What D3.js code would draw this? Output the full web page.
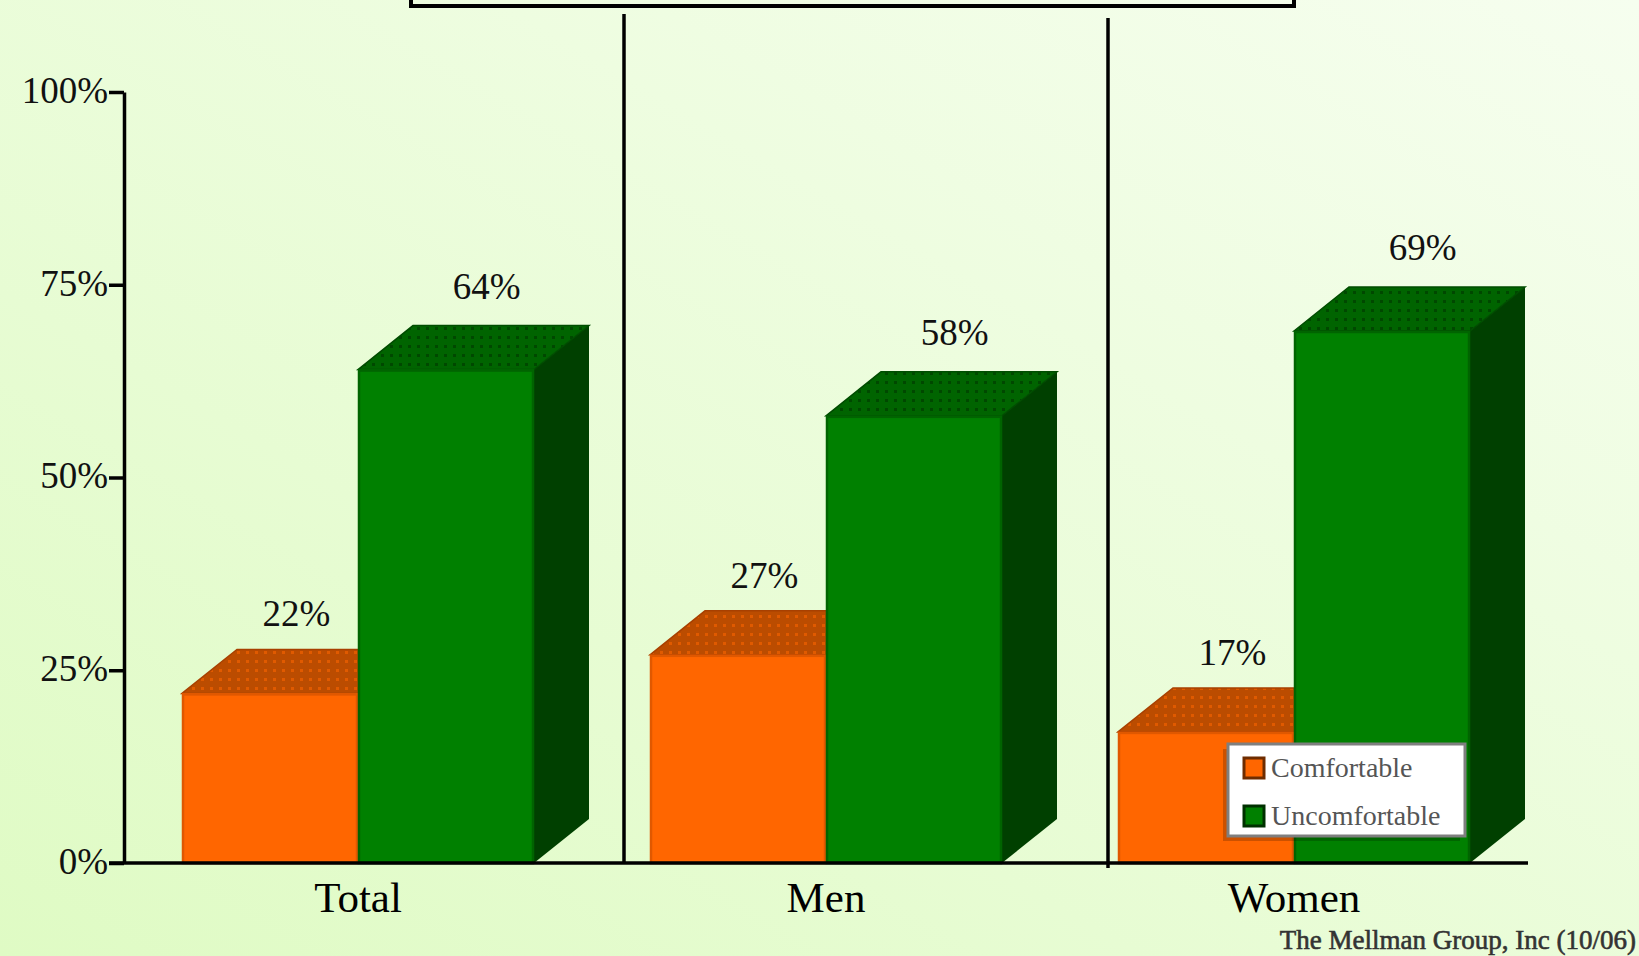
<!DOCTYPE html>
<html lang="en">
  <head>
    <meta charset="UTF-8" />
    <title>Comfortable / Uncomfortable</title>
    <script src="https://cdnjs.cloudflare.com/ajax/libs/d3/7.8.5/d3.min.js"></script>
    <style>
      body,
      html {
        margin: 0;
        padding: 0;
        width: 100%;
        height: 100%;
        overflow: hidden;
      }
      svg {
        display: block;
      }
      text {
        font-family: "Liberation Serif", "Times New Roman", serif;
      }
    </style>
  </head>
  <body>
    <svg id="chart"></svg>
    <script type="text/javascript">
      const categories = ["Total", "Men", "Women"];
      const seriesNames = ["Comfortable", "Uncomfortable"];
      const comfortable = [0.22, 0.27, 0.17];
      const uncomfortable = [0.64, 0.58, 0.69];
      const yTicks = [0, 0.25, 0.5, 0.75, 1];
      const source = "The Mellman Group, Inc (10/06)";

      const width = 1639;
      const height = 956;
      const depth = { dx: 55, dy: 44 };
      const barWidth = 176;

      const svg = d3
        .select("#chart")
        .attr("width", width)
        .attr("height", height);

      // background gradient + dot patterns for the bar tops
      const defs = svg.append("defs");
      const bg = defs
        .append("linearGradient")
        .attr("id", "bg")
        .attr("x1", "0")
        .attr("y1", "1")
        .attr("x2", "1")
        .attr("y2", "0");
      bg.append("stop").attr("offset", "0").attr("stop-color", "#dffbc4");
      bg.append("stop").attr("offset", "1").attr("stop-color", "#f6feef");

      function dots(id, base, dot) {
        const p = defs
          .append("pattern")
          .attr("id", id)
          .attr("patternUnits", "userSpaceOnUse")
          .attr("width", 9)
          .attr("height", 9);
        p.append("rect").attr("width", 9).attr("height", 9).attr("fill", base);
        p.append("rect")
          .attr("x", 3)
          .attr("y", 3)
          .attr("width", 3)
          .attr("height", 3)
          .attr("fill", dot);
      }
      dots("dotsOrange", "#bb4c00", "#e05a00");
      dots("dotsGreen", "#006400", "#004800");

      svg
        .append("rect")
        .attr("width", width)
        .attr("height", height)
        .attr("fill", "url(#bg)");

      const colors = [
        { front: "#ff6600", edge: "#e05800", side: "#a84400", top: "url(#dotsOrange)" },
        { front: "#008000", edge: "#006400", side: "#004000", top: "url(#dotsGreen)" },
      ];

      const x = d3
        .scaleBand()
        .domain(categories)
        .range([124, 1528])
        .padding(0);
      const y = d3.scaleLinear().domain([0, 1]).range([863, 92]);

      // title box (mostly off the top edge)
      svg
        .append("rect")
        .attr("x", 411)
        .attr("y", -60)
        .attr("width", 883)
        .attr("height", 66)
        .attr("fill", "none")
        .attr("stroke", "#000")
        .attr("stroke-width", 4);

      // group dividers, a little right of the band edges
      const dividers = [
        { x: x("Men") + 32, top: 14, bottom: 863 },
        { x: x("Women") + 48, top: 18, bottom: 868 },
      ];
      svg
        .append("g")
        .selectAll("line")
        .data(dividers)
        .join("line")
        .attr("x1", (d) => d.x)
        .attr("x2", (d) => d.x)
        .attr("y1", (d) => d.top)
        .attr("y2", (d) => d.bottom)
        .attr("stroke", "#000")
        .attr("stroke-width", 3.5);

      // bars
      const data = categories.map((c, i) => ({
        cat: c,
        values: [comfortable[i], uncomfortable[i]],
      }));

      const groups = svg
        .append("g")
        .selectAll("g")
        .data(data)
        .join("g");

      groups.each(function (d) {
        const g = d3.select(this);
        const center = x(d.cat) + x.bandwidth() / 2;
        d.values.forEach((v, i) => {
          const x0 = center - barWidth + i * barWidth;
          const x1 = x0 + barWidth;
          const yt = y(v);
          const yb = y(0);
          const c = colors[i];
          const dx = depth.dx;
          const dy = depth.dy;

          // side face
          g.append("path")
            .attr(
              "d",
              `M${x1},${yt}L${x1 + dx},${yt - dy}L${x1 + dx},${yb - dy}L${x1},${yb}Z`
            )
            .attr("fill", c.side);
          // top face
          g.append("path")
            .attr(
              "d",
              `M${x0},${yt}L${x0 + dx},${yt - dy}L${x1 + dx},${yt - dy}L${x1},${yt}Z`
            )
            .attr("fill", c.top)
            .attr("stroke", i === 0 ? "#a84000" : "#004c00")
            .attr("stroke-width", 1.5);
          // front face
          g.append("rect")
            .attr("x", x0)
            .attr("y", yt)
            .attr("width", barWidth)
            .attr("height", yb - yt)
            .attr("fill", c.front);
          g.append("rect")
            .attr("x", x0 + 1)
            .attr("y", yt + 1)
            .attr("width", barWidth - 2)
            .attr("height", yb - yt - 1)
            .attr("fill", "none")
            .attr("stroke", c.edge)
            .attr("stroke-width", 2.5);
        });
      });

      // value labels
      groups.each(function (d) {
        const g = d3.select(this);
        const center = x(d.cat) + x.bandwidth() / 2;
        d.values.forEach((v, i) => {
          const fc = center - barWidth / 2 + i * barWidth;
          g.append("text")
            .attr("x", fc + depth.dx * (i === 0 ? 0.48 : 0.74))
            .attr("y", y(v) - depth.dy - (i === 0 ? 23 : 27))
            .attr("text-anchor", "middle")
            .attr("font-size", 37)
            .attr("fill", "#111")
            .text(d3.format(".0%")(v));
        });
      });

      // y axis
      const yAxis = svg
        .append("g")
        .attr("transform", "translate(124,0)")
        .call(
          d3
            .axisLeft(y)
            .tickValues(yTicks)
            .tickFormat(d3.format(".0%"))
            .tickSize(15)
            .tickSizeOuter(0)
            .tickPadding(1)
        );
      yAxis.select(".domain").attr("stroke-width", 3.5);
      yAxis.selectAll(".tick line").attr("stroke-width", 3.5);
      yAxis
        .selectAll(".tick text")
        .attr("font-family", "Liberation Serif")
        .attr("font-size", 37)
        .attr("fill", "#111")
        .attr("dy", "0.28em");

      // x axis
      const xAxis = svg
        .append("g")
        .attr("transform", "translate(0,863)")
        .call(d3.axisBottom(x).tickSize(0).tickPadding(18));
      xAxis.select(".domain").remove();
      xAxis
        .selectAll(".tick text")
        .attr("font-family", "Liberation Serif")
        .attr("font-size", 43)
        .attr("fill", "#000");
      svg
        .append("line")
        .attr("x1", 109)
        .attr("x2", 1528)
        .attr("y1", 863)
        .attr("y2", 863)
        .attr("stroke", "#000")
        .attr("stroke-width", 3.5);

      // legend
      const legend = svg.append("g").attr("transform", "translate(1228,744)");
      legend
        .append("rect")
        .attr("x", -5)
        .attr("y", 5)
        .attr("width", 237)
        .attr("height", 92)
        .attr("fill", "rgba(0,0,0,0.2)");
      legend
        .append("rect")
        .attr("width", 237)
        .attr("height", 92)
        .attr("fill", "#fff")
        .attr("stroke", "#7f7f7f")
        .attr("stroke-width", 3);
      const items = legend
        .selectAll("g.item")
        .data(seriesNames)
        .join("g")
        .attr("class", "item")
        .attr("transform", (d, i) => `translate(16,${14 + i * 48})`);
      items
        .append("rect")
        .attr("width", 20)
        .attr("height", 20)
        .attr("fill", (d, i) => colors[i].front)
        .attr("stroke", (d, i) => (i === 0 ? "#6e2c00" : "#003000"))
        .attr("stroke-width", 3);
      items
        .append("text")
        .attr("x", 27)
        .attr("y", 19)
        .attr("font-size", 28)
        .attr("fill", "#555")
        .text((d) => d);

      // source
      svg
        .append("text")
        .attr("x", 1636)
        .attr("y", 949)
        .attr("text-anchor", "end")
        .attr("font-size", 27)
        .attr("fill", "#333")
        .attr("stroke", "#333")
        .attr("stroke-width", 0.6)
        .text(source);
    </script>
  </body>
</html>
